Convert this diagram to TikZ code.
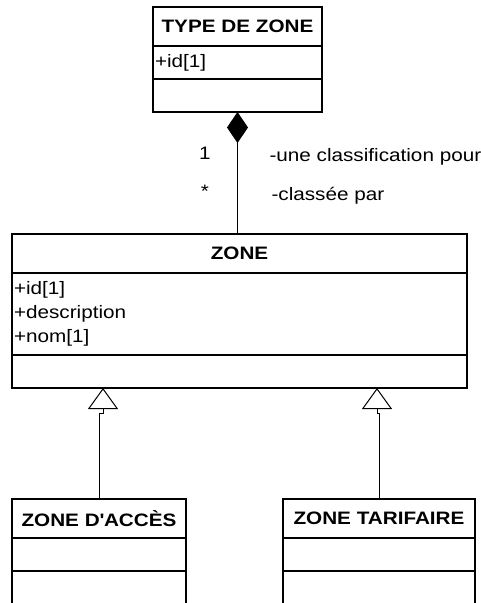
\documentclass[tikz,border=0pt]{standalone}
\usepackage{fontspec}
\setmainfont{Liberation Sans}[FakeStretch=1.15]
\usetikzlibrary{positioning,arrows.meta}

\begin{document}
\begin{tikzpicture}[x=1pt,y=-1pt,
        font=\fontsize{18}{24}\selectfont,
        part/.style={draw,line width=1.6pt,inner xsep=2pt,inner ysep=0pt,outer sep=0pt},
        titlepart/.style={part,minimum height=39pt,font=\fontsize{18}{24}\selectfont\bfseries},
        attrpart/.style={part,align=left},
        link/.style={line width=1pt},
        inherit/.style={link,-{Triangle[open,length=21pt,width=30pt,fill=white]}}]
        \useasboundingbox (0,0) rectangle (481,603);

        % type de zone
        \node[titlepart,minimum width=169pt,anchor=north west] (tz) at (153,7) {TYPE DE ZONE};
        \node[attrpart,text width=165pt,minimum height=33pt,below=0pt of tz] (tz-attr) {+id[1]};
        \node[attrpart,text width=165pt,minimum height=33pt,below=0pt of tz-attr] (tz-op) {};

        % zone
        \node[titlepart,minimum width=455pt,anchor=north west] (z) at (12,234) {ZONE};
        \node[attrpart,text width=451pt,minimum height=82pt,below=0pt of z] (z-attr) {+id[1]\\+description\\+nom[1]};
        \node[attrpart,text width=451pt,minimum height=33pt,below=0pt of z-attr] (z-op) {};

        % sous-classes
        \node[titlepart,minimum width=174pt,anchor=north west] (za) at (12,499) {ZONE D\textquotesingle ACCÈS};
        \node[attrpart,text width=170pt,minimum height=33pt,below=0pt of za] (za-attr) {};
        \node[attrpart,text width=170pt,minimum height=40pt,below=0pt of za-attr] (za-op) {};

        \node[titlepart,minimum width=192pt,anchor=north west] (zt) at (283,499) {ZONE TARIFAIRE};
        \node[attrpart,text width=188pt,minimum height=33pt,below=0pt of zt] (zt-attr) {};
        \node[attrpart,text width=188pt,minimum height=40pt,below=0pt of zt-attr] (zt-op) {};

        % composition
        \draw[link,-{Diamond[length=31pt,width=21pt]}] (z.north -| tz-op.south) -- (tz-op.south);
        \node[anchor=base] (m1) at (205,159) {1};
        \node[anchor=base] (m2) at (205,197) {*};
        \node[anchor=base west] (r1) at (266,161) {-une classification pour};
        \node[anchor=base west] (r2) at (268,200) {-classée par};

        % generalisation
        \coordinate (g1) at (103,388);
        \coordinate (g2) at (377,388);
        \draw[inherit] (za.north) -- ++(0,-86) -| (g1);
        \draw[inherit] (zt.north) -- ++(0,-86) -| (g2);
\end{tikzpicture}
\end{document}
